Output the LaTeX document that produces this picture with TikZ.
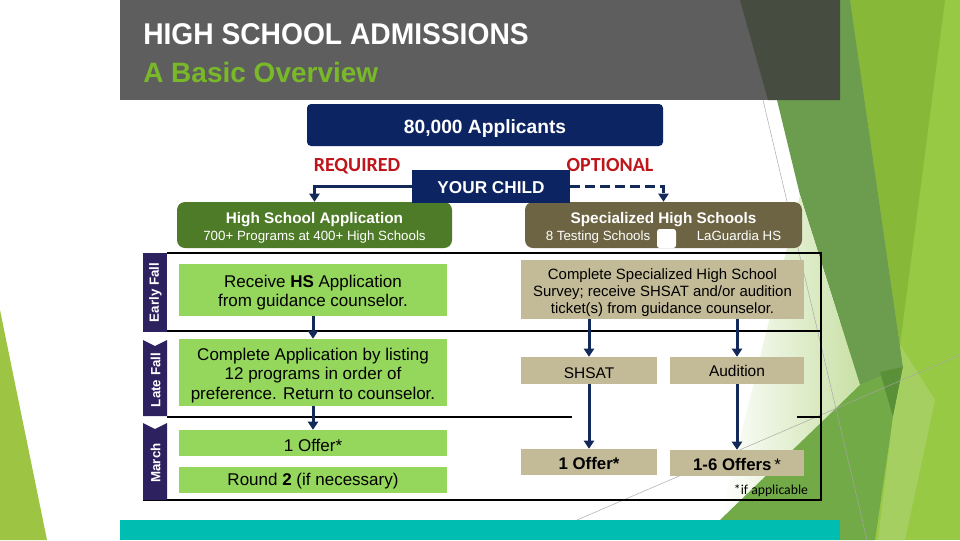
\documentclass[tikz,border=0pt]{standalone}
\usepackage{fontspec}
\setmainfont{Liberation Sans}
\newfontfamily\carl{Carlito}
\newfontfamily\titlef[FakeStretch=0.94]{Liberation Sans}
\usetikzlibrary{arrows.meta,fit}
\definecolor{navybox}{HTML}{0C2461}
\definecolor{arrnavy}{HTML}{13295A}
\definecolor{reqred}{HTML}{C0141B}
\definecolor{dkgreen}{HTML}{4E7B27}
\definecolor{olivebox}{HTML}{6C6443}
\definecolor{ltgreen}{HTML}{95D65C}
\definecolor{tanbox}{HTML}{C3BA98}
\definecolor{tabpurple}{HTML}{2D2160}
\definecolor{titlegray}{HTML}{5E5E5E}
\definecolor{titledark}{HTML}{474C41}
\definecolor{titlegreen}{HTML}{79B829}
\definecolor{tealbar}{HTML}{00BDB1}
\definecolor{stripgreen}{HTML}{98C944}
\definecolor{bandgreen}{HTML}{88B838}
\definecolor{midgreen}{HTML}{6C9D4E}
\definecolor{palegreen}{HTML}{C8E0A5}
\definecolor{botgreen}{HTML}{72AA48}
\definecolor{spotgreen}{HTML}{5A9038}
\definecolor{wedgegreen}{HTML}{A6CF62}
\definecolor{leftgreen}{HTML}{9DC543}
\tikzset{
  boxfit/.style={inner sep=0pt, draw=none},
  txt/.style={inner sep=0pt, anchor=base},
  arr/.style={draw=arrnavy, line width=2.25pt, -{Triangle[width=7.5pt,length=6pt]}},
  sepline/.style={draw=black, line width=0.9pt},
  tabshape/.style={fill=tabpurple},
  tabtext/.style={inner sep=0pt, rotate=90, text=white, font=\bfseries\fontsize{10}{12}\selectfont},
  bodyfont/.style={font=\fontsize{12.75}{14.6}\selectfont},
  thinline/.style={draw=gray!70, line width=0.35pt}
}
\begin{document}
\begin{tikzpicture}[x=0.75pt,y=-0.75pt]
\useasboundingbox (0,0) rectangle (960,540);
\fill[white] (0,0) rectangle (960,540);
% decorations
\fill[leftgreen] (0,310) -- (47,540) -- (0,540) -- cycle;
\fill[stripgreen] (840,0) rectangle (960,540);
\fill[bandgreen] (850,0) -- (945,0) -- (900,345) -- cycle;
\fill[midgreen] (777,100) -- (840,100) -- (840,0) -- (850,0) -- (903,367) -- (860,385) -- (800,195) -- cycle;
\shade[left color=white, right color=palegreen] (800,195) -- (860,385) -- (720,520) -- cycle;
\fill[botgreen] (720,520) -- (860,385) -- (903,367) -- (893,417) -- (875,540) -- (720,540) -- cycle;
\fill[spotgreen] (880,372) -- (903,367) -- (893,417) -- cycle;
\fill[wedgegreen] (900,345) -- (903,367) -- (893,417) -- (878,540) -- (905,540) -- (935,400) -- cycle;
\draw[thinline] (763,100) -- (867,540);
\draw[thinline] (577,520) -- (960,355);
% title bar
\fill[titlegray] (120,0) rectangle (840,100);
\fill[titledark] (740,0) -- (840,0) -- (840,100) -- (768,100) -- cycle;
\node[txt, anchor=base west, text=white, font=\titlef\bfseries\fontsize{22.5}{26}\selectfont] (title) at (143,44) {HIGH SCHOOL ADMISSIONS};
\node[txt, anchor=base west, text=titlegreen, font=\bfseries\fontsize{21}{25}\selectfont] (subtitle) at (143,82) {A Basic Overview};
\fill[tealbar] (120,520) rectangle (840,540);
% top
\node[boxfit, fit={(307,104) (663,146)}, fill=navybox, rounded corners=3pt] (apps) {};
\node[txt, text=white, font=\bfseries\fontsize{14.4}{17}\selectfont] (appsT) at (485,133) {80,000 Applicants};
\node[txt, text=reqred, font=\carl\bfseries\fontsize{15}{18}\selectfont] (req) at (357,171) {REQUIRED};
\node[txt, text=reqred, font=\carl\bfseries\fontsize{15}{18}\selectfont] (opt) at (610,171) {OPTIONAL};
% boxes
\node[boxfit, fit={(177,202) (452,248)}, fill=dkgreen, rounded corners=6pt] (hsapp) {};
\node[txt, text=white, font=\bfseries\fontsize{11.5}{13}\selectfont] (hsappT) at (314.5,223) {High School Application};
\node[txt, text=white, font=\fontsize{10}{12}\selectfont] (hsappS) at (314.5,240) {700+ Programs at 400+ High Schools};
\node[boxfit, fit={(525,202) (802,248)}, fill=olivebox, rounded corners=6pt] (shs) {};
\node[txt, text=white, font=\bfseries\fontsize{11.5}{13}\selectfont] (shsT) at (663.5,223) {Specialized High Schools};
\node[txt, text=white, font=\fontsize{10}{12}\selectfont] (shsA) at (598,240) {8 Testing Schools};
\node[txt, text=white, font=\fontsize{10}{12}\selectfont] (shsB) at (739,240) {LaGuardia HS};
\node[boxfit, fit={(657,229) (676,248)}, fill=white, rounded corners=2pt] (amp) {};
\node[boxfit, fit={(412,170) (570,203)}, fill=navybox] (child) {};
\node[txt, text=white, font=\bfseries\fontsize{12.9}{15}\selectfont] (childT) at (491,193) {YOUR CHILD};
% frame
\draw[sepline] (167,253) -- (821,253) -- (821,500) -- (143,500);
\draw[sepline] (167,331) -- (821,331);
\draw[sepline] (167,417) -- (572,417);
\draw[sepline] (797,417) -- (821,417);
% tabs
\fill[tabshape] (143,253) rectangle (167,332);
\fill[tabshape] (143,340) -- (155,346) -- (167,340) -- (167,416) -- (143,416) -- cycle;
\fill[tabshape] (143,423) -- (155,429) -- (167,423) -- (167,500) -- (143,500) -- cycle;
\node[tabtext] (t1) at (155.5,292.5) {Early Fall};
\node[tabtext] (t2) at (155.5,380) {Late Fall};
\node[tabtext] (t3) at (155.5,463) {March};
% left column
\node[boxfit, fit={(179,264) (447,316)}, fill=ltgreen] (recv) {};
\node[txt, bodyfont] (recvT) at (313,287) {Receive \textbf{HS} Application};
\node[txt, bodyfont] (recvT2) at (313,306.5) {from guidance counselor.};
\node[boxfit, fit={(179,339) (447,406)}, fill=ltgreen] (compl) {};
\node[txt, bodyfont] (complA) at (313,360) {Complete Application by listing};
\node[txt, bodyfont] (complB) at (313,379.5) {12 programs in order of};
\node[txt, bodyfont] (complC) at (313,399) {preference. Return to counselor.};
\node[boxfit, fit={(179,430) (447,456)}, fill=ltgreen] (offL) {};
\node[txt, bodyfont] (offLT) at (313,451) {1 Offer*};
\node[boxfit, fit={(179,467) (447,493)}, fill=ltgreen] (round) {};
\node[txt, bodyfont] (roundT) at (313,485) {Round \textbf{2} (if necessary)};
% right column
\node[boxfit, fit={(521,260) (804,319)}, fill=tanbox] (survey) {};
\node[txt, font=\fontsize{11.2}{13}\selectfont] (sv1) at (662.5,279) {Complete Specialized High School};
\node[txt, font=\fontsize{11.2}{13}\selectfont] (sv2) at (662.5,296) {Survey; receive SHSAT and/or audition};
\node[txt, font=\fontsize{11.2}{13}\selectfont] (sv3) at (662.5,313) {ticket(s) from guidance counselor.};
\node[boxfit, fit={(521,357) (657,384)}, fill=tanbox] (shsat) {};
\node[txt, font=\fontsize{11.6}{14}\selectfont] (shsatT) at (589,378) {SHSAT};
\node[boxfit, fit={(670,357) (804,384)}, fill=tanbox] (aud) {};
\node[txt, font=\fontsize{11.6}{14}\selectfont] (audT) at (737,376) {Audition};
\node[boxfit, fit={(521,449) (657,475)}, fill=tanbox] (offR) {};
\node[txt, font=\bfseries\fontsize{12.6}{15}\selectfont] (offRT) at (589,469) {1 Offer*};
\node[boxfit, fit={(670,450) (804,476)}, fill=tanbox] (offM) {};
\node[txt, font=\fontsize{12.6}{15}\selectfont] (offMT) at (737,470) {\textbf{1-6 Offers}\,*};
\node[txt, font=\carl\fontsize{10.3}{12}\selectfont] (ifapp) at (771,494) {*if applicable};
% arrows
\draw[arr] (child.west) -| (hsapp.north);
\draw[arr, dash pattern=on 7.5pt off 3.75pt] (child.east) -| (shs.north);
\draw[arr] (recv.south) -- (compl.north);
\draw[arr] (compl.south) -- (offL.north);
\draw[arr] (survey.south -| shsat.north) -- (shsat.north);
\draw[arr] (survey.south -| aud.north) -- (aud.north);
\draw[arr] (shsat.south) -- (offR.north);
\draw[arr] (aud.south) -- (offM.north);
\end{tikzpicture}
\end{document}
